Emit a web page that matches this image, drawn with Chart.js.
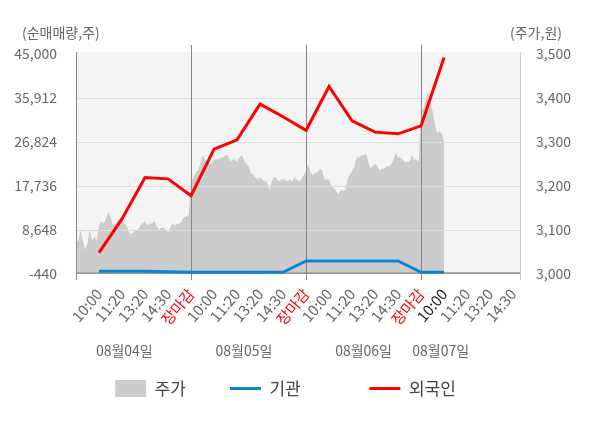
<!DOCTYPE html>
<html>
<head>
<meta charset="utf-8">
<script src="https://cdn.jsdelivr.net/npm/chart.js@4.4.1/dist/chart.umd.min.js"></script>
<style>
  html, body { margin: 0; padding: 0; background: #fff; }
  #wrap { width: 600px; height: 428px; }
</style>
</head>
<body>
<div id="wrap"><canvas id="flowChart"></canvas></div>
<script>
// x is measured in "slots": 5 per trading day (10:00, 11:20, 13:20, 14:30, close)
const xTickLabels = [
    '10:00', '11:20', '13:20', '14:30', '장마감',
    '10:00', '11:20', '13:20', '14:30', '장마감',
    '10:00', '11:20', '13:20', '14:30', '장마감',
    '10:00', '11:20', '13:20', '14:30'
];
const dayLabels = ['08월04일', '08월05일', '08월06일', '08월07일'];
const dayLabelSlots = [2.1, 7.3, 12.5, 15.85];
const daySeparators = [5, 10, 15];

const leftTicks = [-440, 8648, 17736, 26824, 35912, 45000];
const rightTicks = [3000, 3100, 3200, 3300, 3400, 3500];

// net buying volume (shares), one value per tick slot
const flowSlots = [1, 2, 3, 4, 5, 6, 7, 8, 9, 10, 11, 12, 13, 14, 15, 16];
const institution = [120, 120, 120, 20, -80, -80, -80, -80, -80, 2250, 2250, 2250, 2250, 2250, -80, -80];
const foreign = [3970, 10930, 19480, 19210, 15750, 25350, 27270, 34650, 32030, 29240, 38290, 31200, 28860, 28510, 30170, 44290];

// share price (won), sampled every 0.1 slot from the first open
const PRICE_STEP = 0.1;
const price = [
    // 08/04
    3075, 3075, 3100, 3075, 3055, 3070, 3100, 3075, 3085, 3075,
    3110, 3120, 3115, 3125, 3140, 3130, 3110, 3115, 3120, 3125,
    3120, 3115, 3110, 3095, 3090, 3095, 3100, 3100, 3110, 3115,
    3120, 3110, 3115, 3115, 3120, 3110, 3100, 3105, 3105, 3100,
    3095, 3105, 3115, 3110, 3115, 3115, 3120, 3130, 3130, 3135,
    // 08/05
    3210, 3220, 3230, 3235, 3250, 3270, 3260, 3255, 3250, 3250,
    3260, 3260, 3260, 3265, 3265, 3270, 3270, 3255, 3260, 3260,
    3255, 3265, 3270, 3260, 3250, 3245, 3230, 3225, 3220, 3215,
    3220, 3215, 3210, 3210, 3190, 3210, 3220, 3220, 3210, 3215,
    3215, 3215, 3210, 3215, 3210, 3220, 3215, 3210, 3215, 3225,
    // 08/06
    3235, 3250, 3230, 3225, 3230, 3230, 3240, 3235, 3215, 3215,
    3215, 3200, 3195, 3190, 3180, 3190, 3190, 3190, 3215, 3225,
    3235, 3245, 3265, 3265, 3270, 3270, 3275, 3255, 3240, 3245,
    3250, 3245, 3235, 3240, 3240, 3245, 3245, 3250, 3260, 3275,
    3265, 3265, 3260, 3255, 3255, 3255, 3270, 3260, 3260, 3255,
    // 08/07
    3375, 3375, 3395, 3415, 3390, 3370, 3340, 3320, 3325, 3320, 3300
];

// extra room after each legend entry, keyed by dataset index
const legendTail = ['\u3000\u3000', '\u3000\u3000\u3000  ', ''];

const FONT = "'Noto Sans CJK KR', 'Noto Sans', sans-serif";
Chart.defaults.font.family = FONT;
Chart.defaults.color = '#666';

function strokeLine(ctx, x1, y1, x2, y2) {
    ctx.beginPath();
    ctx.moveTo(x1, y1);
    ctx.lineTo(x2, y2);
    ctx.stroke();
}

const chartDecor = {
    id: 'chartDecor',
    beforeDatasetsDraw(chart) {
        const { ctx, chartArea: a } = chart;
        ctx.save();
        ctx.fillStyle = '#f4f4f4';
        ctx.fillRect(a.left, a.top - 2, a.right - a.left, a.bottom - a.top + 2);
        ctx.restore();
    },
    // grid and separators go over the price area but under the flow lines
    afterDatasetDraw(chart, args) {
        if (args.index !== 0) return;
        const { ctx, chartArea: a, scales } = chart;
        const x = scales.x, y = scales.y;
        ctx.save();
        ctx.lineWidth = 1;
        ctx.strokeStyle = '#dddddd';
        leftTicks.slice(1, -1).forEach(v => {
            const py = Math.round(y.getPixelForValue(v)) + 0.5;
            strokeLine(ctx, a.left, py, a.right, py);
        });
        ctx.strokeStyle = '#a8a8a8';
        const zy = Math.round(y.getPixelForValue(0)) + 0.5;
        strokeLine(ctx, a.left, zy, a.right, zy);
        const by = Math.round(a.bottom) - 0.5;
        ctx.strokeStyle = '#999999';
        strokeLine(ctx, a.left, by, a.right, by);
        ctx.strokeStyle = '#cccccc';
        strokeLine(ctx, Math.round(a.right) + 0.5, a.top - 2, Math.round(a.right) + 0.5, a.bottom + 6);
        ctx.strokeStyle = '#888888';
        strokeLine(ctx, Math.round(a.left) + 0.5, a.top - 2, Math.round(a.left) + 0.5, a.bottom + 6);
        daySeparators.forEach(s => {
            const px = Math.round(x.getPixelForValue(s)) + 0.5;
            strokeLine(ctx, px, a.top - 9, px, a.bottom + 6);
        });
        ctx.restore();
    },
    afterDraw(chart) {
        const { ctx, chartArea: a, scales } = chart;
        ctx.save();
        ctx.fillStyle = '#666';
        ctx.textBaseline = 'middle';
        ctx.font = '14px ' + FONT;
        ctx.textAlign = 'left';
        ctx.fillText('(순매매량,주)', 22, a.top - 21);
        ctx.textAlign = 'right';
        ctx.fillText('(주가,원)', 562, a.top - 21);
        ctx.textAlign = 'center';
        dayLabels.forEach((t, i) => {
            ctx.fillText(t, scales.x.getPixelForValue(dayLabelSlots[i]), a.bottom + 77);
        });
        ctx.restore();
    }
};

const ctx = document.getElementById('flowChart').getContext('2d');
const flowChart = new Chart(ctx, {
    type: 'line',
    data: {
        datasets: [
            {
                label: '주가',
                data: price.map((p, i) => ({ x: i * PRICE_STEP, y: p })),
                yAxisID: 'y1',
                fill: 'start',
                backgroundColor: '#cccccc',
                borderColor: 'rgba(0,0,0,0)',
                borderWidth: 0,
                pointRadius: 0,
                pointStyle: 'rect',
                order: 3
            },
            {
                label: '기관',
                data: flowSlots.map((s, i) => ({ x: s, y: institution[i] })),
                yAxisID: 'y',
                borderColor: '#0a85d0',
                backgroundColor: '#0a85d0',
                borderWidth: 3,
                pointRadius: 0,
                pointStyle: 'line',
                tension: 0,
                order: 2
            },
            {
                label: '외국인',
                data: flowSlots.map((s, i) => ({ x: s, y: foreign[i] })),
                yAxisID: 'y',
                borderColor: '#ff0000',
                backgroundColor: '#ff0000',
                borderWidth: 3,
                pointRadius: 0,
                pointStyle: 'line',
                tension: 0,
                order: 1
            }
        ]
    },
    options: {
        responsive: true,
        maintainAspectRatio: false,
        animation: false,
        layout: { padding: { top: 54, left: 0, right: 29, bottom: 21 } },
        plugins: {
            tooltip: { enabled: false },
            legend: {
                position: 'bottom',
                labels: {
                    usePointStyle: true,
                    pointStyleWidth: 31,
                    boxHeight: 17,
                    padding: 10,
                    color: '#444',
                    font: { size: 17 },
                    sort: (a, b) => a.datasetIndex - b.datasetIndex,
                    generateLabels(chart) {
                        const items = Chart.defaults.plugins.legend.labels.generateLabels(chart);
                        return items.map(it => Object.assign(it, { text: it.text + legendTail[it.datasetIndex] }));
                    }
                }
            }
        },
        scales: {
            x: {
                type: 'linear',
                min: 0,
                max: 19.3,
                grid: { display: false },
                border: { display: false },
                afterBuildTicks: s => { s.ticks = xTickLabels.map((_, i) => ({ value: i + 1 })); },
                afterFit: s => { s.height = 96; },
                ticks: {
                    autoSkip: false,
                    minRotation: 50,
                    maxRotation: 50,
                    padding: 8,
                    font: { size: 15, lineHeight: 0.2 },
                    color: c => {
                        const label = xTickLabels[c.index];
                        if (label === '장마감') return '#ff0000';
                        if (c.index + 1 === flowSlots[flowSlots.length - 1]) return '#222';
                        return '#666';
                    },
                    callback: (v, i) => xTickLabels[i]
                }
            },
            y: {
                position: 'left',
                min: leftTicks[0],
                max: leftTicks[leftTicks.length - 1],
                grid: { display: false },
                border: { display: false },
                afterBuildTicks: s => { s.ticks = leftTicks.map(v => ({ value: v })); },
                afterFit: s => { s.width = 76; },
                ticks: {
                    padding: 11,
                    font: { size: 14 },
                    callback: v => v.toLocaleString('en-US')
                }
            },
            y1: {
                position: 'right',
                min: rightTicks[0],
                max: rightTicks[rightTicks.length - 1],
                grid: { display: false },
                border: { display: false },
                afterBuildTicks: s => { s.ticks = rightTicks.map(v => ({ value: v })); },
                afterFit: s => { s.width = 51; },
                ticks: {
                    padding: 8,
                    font: { size: 14 },
                    callback: v => v.toLocaleString('en-US')
                }
            }
        }
    },
    plugins: [chartDecor]
});
</script>
</body>
</html>
